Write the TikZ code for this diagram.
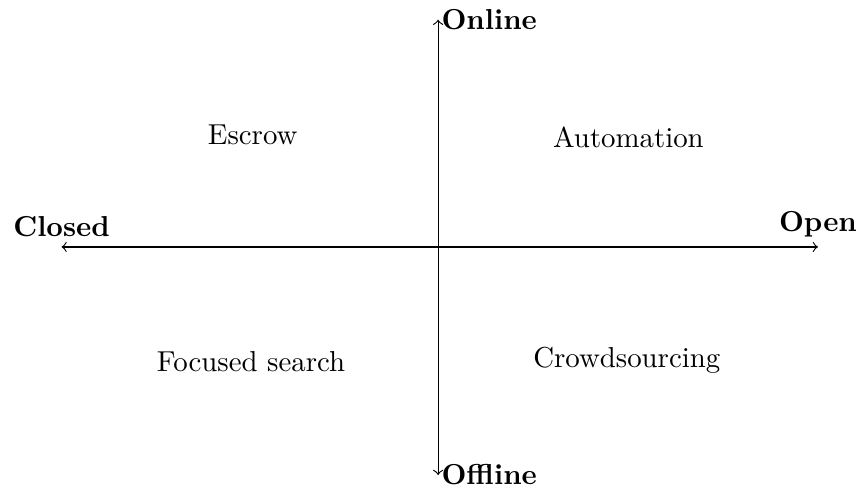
\documentclass[tikz,border=0pt]{standalone}
\usepackage{tikz}
\usetikzlibrary{arrows}
\tikzset{axis/.style={<->, >=to}}

\begin{document}
\begin{tikzpicture}
    \useasboundingbox (-5.34, -2.95) rectangle (5.13, 3.01);
    \coordinate (W) at (-4.59, 0);
    \coordinate (E) at (4.63, 0);
    \coordinate (N) at (0, 2.77);
    \coordinate (S) at (0, -2.78);
    \draw[axis] (W) to (E);
    \draw[axis] (S) to (N);
    \node[anchor=west, inner sep=1pt] (online) at (N) {\textbf{Online}};
    \node[anchor=west, inner sep=1pt] (offline) at (S) {\textbf{Offline}};
    \node[anchor=south] (closed) at (W) {\textbf{Closed}};
    \node[anchor=south] (open) at (E) {\textbf{Open}};
    \node (escrow) at (-2.26, 1.37) {Escrow};
    \node (auto) at (2.32, 1.34) {Automation};
    \node (search) at (-2.28, -1.40) {Focused search};
    \node (crowd) at (2.30, -1.38) {Crowdsourcing};
  \end{tikzpicture}
\end{document}
